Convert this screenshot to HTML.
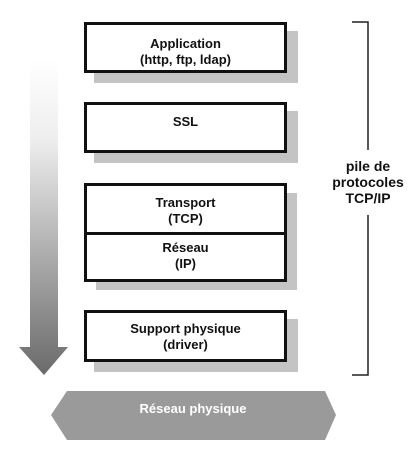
<!DOCTYPE html>
<html><head><meta charset="utf-8"><style>
body{margin:0;width:416px;height:457px;background:#fff;position:relative;overflow:hidden;font-family:"Liberation Sans",sans-serif;font-weight:bold}
.sh{position:absolute;background:#c4c4c4}
.b{position:absolute;background:#fff;border:3px solid #111;box-sizing:border-box;text-align:center;font-size:13px;line-height:16px;color:#111}
.t{position:absolute;text-align:center;font-size:14px;line-height:16px;color:#111}
</style></head><body>
<svg width="416" height="457" style="position:absolute;left:0;top:0">
<defs><linearGradient id="g" x1="0" y1="0" x2="0" y2="1">
<stop offset="0" stop-color="#fff"/><stop offset="0.25" stop-color="#eee"/><stop offset="1" stop-color="#6a6a6a"/></linearGradient></defs>
<polygon points="30,60 58,60 58,347 68,347 44,375 19,347 30,347" fill="url(#g)"/>
<polyline points="352,22 368,22 368,150" fill="none" stroke="#222" stroke-width="1.5"/>
<polyline points="368,215 368,375 352,375" fill="none" stroke="#222" stroke-width="1.5"/>
<polygon points="67,391 325,391 336,415 325,440 67,440 51,415" fill="#9a9a9a"/>
<text x="193" y="413" text-anchor="middle" fill="#fff" font-size="13" font-weight="bold" font-family="Liberation Sans, sans-serif">Réseau physique</text>
</svg>
<div class="sh" style="left:94px;top:31px;width:204px;height:52px"></div>
<div class="b" style="left:84px;top:22px;width:203px;height:51px;padding-top:11px">Application<br>(http, ftp, ldap)</div>
<div class="sh" style="left:94px;top:111px;width:204px;height:52px"></div>
<div class="b" style="left:84px;top:102px;width:203px;height:51px;padding-top:9px">SSL</div>
<div class="sh" style="left:96px;top:193px;width:201px;height:97px"></div>
<div class="b" style="left:84px;top:183px;width:203px;height:52px;padding-top:9px">Transport<br>(TCP)</div>
<div class="b" style="left:84px;top:232px;width:203px;height:50px;padding-top:5px">Réseau<br>(IP)</div>
<div class="sh" style="left:94px;top:319px;width:204px;height:53px"></div>
<div class="b" style="left:84px;top:310px;width:203px;height:52px;padding-top:8px">Support physique<br>(driver)</div>
<div class="t" style="left:320px;top:158px;width:96px">pile de<br>protocoles<br>TCP/IP</div>
</body></html>
